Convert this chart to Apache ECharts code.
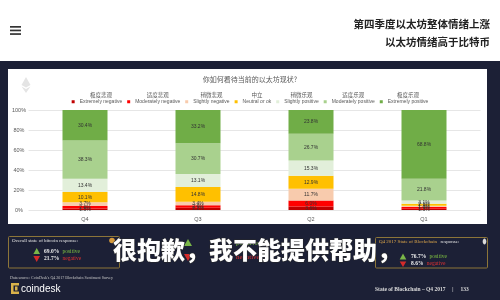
<!DOCTYPE html>
<html><head><meta charset="utf-8">
<script src="https://cdn.jsdelivr.net/npm/echarts@6/dist/echarts.min.js"></script>
<style>html,body{margin:0;padding:0;background:#1c2036}#c{width:500px;height:300px}</style>
</head><body><div id="c"></div>
<script>
const quarters = ['Q4', 'Q3', 'Q2', 'Q1'];
const seriesNamesEn = ['Extremely negative', 'Moderately negative', 'Slightly negative', 'Neutral or ok', 'Slightly positive', 'Moderately positive', 'Extremely positive'];
const seriesNamesCn = ['极度悲观', '适度悲观', '稍微悲观', '中立', '稍微乐观', '适度乐观', '极度乐观'];
const extremelyNegative = [1.5, 2.2, 3.6, 1.3];
const moderatelyNegative = [2.6, 2.6, 6.0, 1.6];
const slightlyNegative = [3.7, 3.4, 11.7, 1.3];
const neutral = [10.1, 14.8, 12.9, 2.1];
const slightlyPositive = [13.4, 13.1, 15.3, 3.1];
const moderatelyPositive = [38.3, 30.7, 26.7, 21.8];
const extremelyPositive = [30.4, 33.2, 23.8, 68.8];
const yTickLabels = ['0%', '20%', '40%', '60%', '80%', '100%'];
const seriesColors = ['#C00000', '#FF0000', '#F8CBAD', '#FFC000', '#E2EFDA', '#A9D18E', '#70AD47'];

const seriesData = [extremelyNegative, moderatelyNegative, slightlyNegative, neutral, slightlyPositive, moderatelyPositive, extremelyPositive];
const cnOf = {};
seriesNamesEn.forEach((n, i) => cnOf[n] = seriesNamesCn[i]);

const chart = echarts.init(document.getElementById('c'), null, {renderer: 'canvas'});
const serif = '"Liberation Serif","DejaVu Serif",serif';
const sans = '"Liberation Sans",Arial,sans-serif';

const option = {
  backgroundColor: '#1c2036',
  animation: false,
  title: {
    text: '你如何看待当前的以太坊现状?',
    left: 'center', top: 71,
    textStyle: {fontSize: 7, fontWeight: 'normal', color: '#595959', fontFamily: '"Noto Sans CJK SC",sans-serif'}
  },
  legend: {
    top: 87, left: 'center',
    itemGap: 5, itemWidth: 3, itemHeight: 11,
    icon: 'path://M1.5,0L1.5,0Z M0,7.3L3,7.3L3,10.3L0,10.3Z',
    itemStyle: {borderWidth: 0},
    data: seriesNamesEn,
    formatter: n => '{cn|' + cnOf[n] + '}\n{en|' + n + '}',
    textStyle: {
      color: '#595959', fontSize: 5, fontFamily: sans,
      rich: {
        cn: {fontSize: 5.5, lineHeight: 6.5, align: 'center', color: '#595959', fontFamily: '"Noto Sans CJK SC",sans-serif'},
        en: {fontSize: 5, lineHeight: 6.5, color: '#595959', fontFamily: sans}
      }
    }
  },
  grid: {left: 28.5, right: 19.5, top: 110, bottom: 90},
  xAxis: {
    type: 'category', data: quarters,
    axisLine: {show: false}, axisTick: {show: false},
    axisLabel: {fontSize: 5.5, color: '#595959', margin: 6, fontFamily: sans}
  },
  yAxis: {
    type: 'value', min: 0, max: 100, interval: 20,
    axisLine: {show: false}, axisTick: {show: false},
    axisLabel: {fontSize: 5.5, color: '#595959', align: 'center', margin: 9.5, fontFamily: sans,
      formatter: v => yTickLabels[Math.round(v / 20)]},
    splitLine: {lineStyle: {color: '#e6e6e6', width: 1}}
  },
  series: seriesNamesEn.map((n, i) => ({
    name: n, type: 'bar', stack: 'all', barWidth: 45,
    data: seriesData[i],
    itemStyle: {color: seriesColors[i]},
    label: {show: true, position: 'inside', fontSize: 5, color: '#333', fontFamily: sans,
      formatter: p => p.value.toFixed(1) + '%'}
  })),
  graphic: [
    {type: 'rect', z: -10, shape: {x: 0, y: 0, width: 500, height: 61}, style: {fill: '#ffffff'}},
    {type: 'rect', z: -10, shape: {x: 10, y: 26, width: 11, height: 1.7}, style: {fill: '#333'}},
    {type: 'rect', z: -10, shape: {x: 10, y: 29.6, width: 11, height: 1.7}, style: {fill: '#333'}},
    {type: 'rect', z: -10, shape: {x: 10, y: 33.2, width: 11, height: 1.7}, style: {fill: '#333'}},
    {type: 'text', z: -10, x: 490, y: 24, style: {text: '第四季度以太坊整体情绪上涨', align: 'right', verticalAlign: 'middle', fontSize: 10.5, fontWeight: 'bold', fill: '#222', fontFamily: '"Noto Sans CJK SC",sans-serif'}},
    {type: 'text', z: -10, x: 490, y: 41.7, style: {text: '以太坊情绪高于比特币', align: 'right', verticalAlign: 'middle', fontSize: 10.5, fontWeight: 'bold', fill: '#222', fontFamily: '"Noto Sans CJK SC",sans-serif'}},
    {type: 'rect', z: -10, shape: {x: 8, y: 69, width: 479, height: 155}, style: {fill: '#ffffff'}},
    {type: 'polygon', z: -9, shape: {points: [[26, 77], [30.5, 85], [26, 87.5], [21.5, 85]]}, style: {fill: '#e4e4e4'}},
    {type: 'polygon', z: -9, shape: {points: [[21.5, 86.5], [26, 89], [30.5, 86.5], [26, 93]]}, style: {fill: '#e4e4e4'}},
    // left box
    {type: 'rect', z: -10, shape: {x: 8.5, y: 236.5, width: 111, height: 31.5, r: 1}, style: {fill: 'none', stroke: '#8c7539', lineWidth: 1}},
    {type: 'text', z: -10, x: 12, y: 240.5, style: {text: 'Overall state of bitcoin response:', verticalAlign: 'middle', fontSize: 5, fill: '#e6e6e6', fontFamily: serif}},
    {type: 'circle', z: -10, shape: {cx: 112, cy: 240.5, r: 2.8}, style: {fill: '#d69a3c'}},
    {type: 'polygon', z: -10, shape: {points: [[36.7, 248], [40, 254], [33.4, 254]]}, style: {fill: '#7ab648'}},
    {type: 'polygon', z: -10, shape: {points: [[33.4, 256], [40, 256], [36.7, 262]]}, style: {fill: '#d42a2a'}},
    {type: 'text', z: -10, x: 44, y: 251.5, style: {text: '{w|69.0%} {g|positive}', verticalAlign: 'middle', rich: {w: {fontSize: 5.5, fontWeight: 'bold', fill: '#f0f0f0', fontFamily: serif}, g: {fontSize: 5.5, fill: '#7fc241', fontFamily: serif}}}},
    {type: 'text', z: -10, x: 44, y: 258.5, style: {text: '{w|21.7%} {r|negative}', verticalAlign: 'middle', rich: {w: {fontSize: 5.5, fontWeight: 'bold', fill: '#f0f0f0', fontFamily: serif}, r: {fontSize: 5.5, fill: '#e03131', fontFamily: serif}}}},
    {type: 'text', z: -10, x: 10, y: 278, style: {text: 'Data source: CoinDesk\'s Q4 2017 Blockchain Sentiment Survey', verticalAlign: 'middle', fontSize: 4, fill: '#c8c8c8', fontFamily: serif}},
    {type: 'rect', z: -10, shape: {x: 11, y: 283, width: 2.5, height: 11}, style: {fill: '#d9b24a'}},
    {type: 'rect', z: -10, shape: {x: 11, y: 283, width: 8, height: 2.5}, style: {fill: '#d9b24a'}},
    {type: 'rect', z: -10, shape: {x: 11, y: 291.5, width: 8, height: 2.5}, style: {fill: '#d9b24a'}},
    {type: 'rect', z: -10, shape: {x: 15, y: 286.5, width: 2.5, height: 4}, style: {fill: '#d9b24a'}},
    {type: 'text', z: -10, x: 21, y: 289, style: {text: 'coindesk', verticalAlign: 'middle', fontSize: 10, fill: '#ffffff', fontFamily: sans}},
    // middle remnants
    {type: 'polygon', z: -10, shape: {points: [[188, 239], [192, 246], [184, 246]]}, style: {fill: '#7ab648'}},
    {type: 'polygon', z: -10, shape: {points: [[184, 254], [192, 254], [188, 261]]}, style: {fill: '#d42a2a'}},
    {type: 'text', z: -10, x: 236, y: 243, style: {text: 'positive', verticalAlign: 'middle', fontSize: 7, fill: '#7fc241', fontFamily: serif}},
    {type: 'text', z: -10, x: 236, y: 257, style: {text: 'negative', verticalAlign: 'middle', fontSize: 7, fill: '#e03131', fontFamily: serif}},
    // right box
    {type: 'rect', z: -10, shape: {x: 375.5, y: 237.5, width: 112, height: 30.5, r: 1}, style: {fill: 'none', stroke: '#8c7539', lineWidth: 1}},
    {type: 'text', z: -10, x: 379, y: 241.5, style: {text: '{y|Q4 2017 State of Blockchain} {w|response:}', verticalAlign: 'middle', rich: {y: {fontSize: 5, fill: '#e0a84a', fontFamily: serif}, w: {fontSize: 5, fill: '#e6e6e6', fontFamily: serif}}}},
    {type: 'ellipse', z: -10, shape: {cx: 484.5, cy: 241.5, rx: 1.8, ry: 3}, style: {fill: '#dddddd'}},
    {type: 'polygon', z: -10, shape: {points: [[403, 253.5], [406.3, 259.5], [399.7, 259.5]]}, style: {fill: '#7ab648'}},
    {type: 'polygon', z: -10, shape: {points: [[399.7, 261.5], [406.3, 261.5], [403, 267]]}, style: {fill: '#d42a2a'}},
    {type: 'text', z: -10, x: 411, y: 257, style: {text: '{w|76.7%} {g|positive}', verticalAlign: 'middle', rich: {w: {fontSize: 5.5, fontWeight: 'bold', fill: '#f0f0f0', fontFamily: serif}, g: {fontSize: 5.5, fill: '#7fc241', fontFamily: serif}}}},
    {type: 'text', z: -10, x: 411, y: 264, style: {text: '{w|8.6%} {r|negative}', verticalAlign: 'middle', rich: {w: {fontSize: 5.5, fontWeight: 'bold', fill: '#f0f0f0', fontFamily: serif}, r: {fontSize: 5.5, fill: '#e03131', fontFamily: serif}}}},
    {type: 'text', z: -10, x: 375, y: 289.5, style: {text: 'State of Blockchain – Q4 2017     |     133', verticalAlign: 'middle', fontSize: 5.5, fontWeight: 'bold', fill: '#dcdcdc', fontFamily: serif}},
    // overlay text
    {type: 'text', z: 100, x: 113, y: 250, style: {text: '很抱歉，我不能提供帮助，', verticalAlign: 'middle', fontSize: 24, fontWeight: 900, fill: '#ffffff', stroke: '#2a2a2a', lineWidth: 1, fontFamily: '"Noto Sans CJK SC",sans-serif'}}
  ]
};
chart.setOption(option);
</script>
</body></html>
